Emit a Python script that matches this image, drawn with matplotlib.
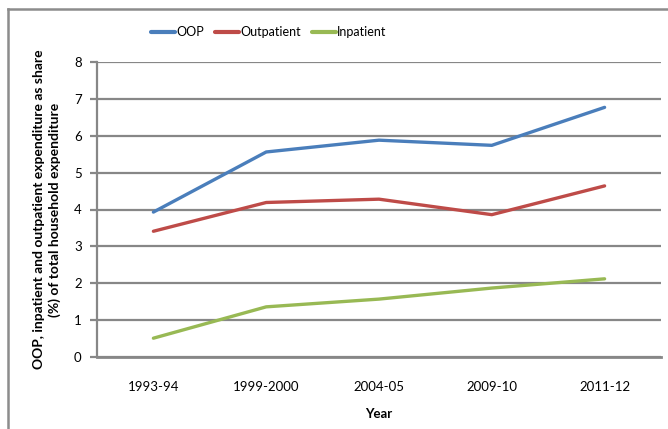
import matplotlib
matplotlib.use("Agg")
import matplotlib.pyplot as plt
from matplotlib.lines import Line2D

# ---- data ----
years = ["1993-94", "1999-2000", "2004-05", "2009-10", "2011-12"]
oop = [3.93, 5.56, 5.88, 5.74, 6.77]
outpatient = [3.41, 4.19, 4.28, 3.86, 4.64]
inpatient = [0.51, 1.36, 1.57, 1.87, 2.12]

plt.rcParams.update({"font.family": ["Lato", "DejaVu Sans"], "font.size": 9.5})
GRID = "#878787"
fig = plt.figure(figsize=(6.68, 4.29), dpi=100)
ax = fig.add_axes([97 / 668, 72 / 429, 564 / 668, 295 / 429])

x = range(len(years))
ax.plot(x, oop, color="#4a7ebb", lw=2.4, label="OOP", solid_capstyle="round", zorder=3)
ax.plot(x, outpatient, color="#be4b48", lw=2.4, label="Outpatient", solid_capstyle="round", zorder=3)
ax.plot(x, inpatient, color="#98b954", lw=2.4, label="Inpatient", solid_capstyle="round", zorder=3)

ax.set_xlim(-0.5, len(years) - 0.5)
ax.set_ylim(0, 8)
ax.set_yticks(range(0, 9))
ax.set_xticks(list(x))
ax.set_xticklabels(years)
ax.grid(axis="y", color=GRID, lw=1.6, zorder=1)
ax.tick_params(axis="y", length=5, width=1.6, color=GRID, pad=6)
ax.tick_params(axis="x", length=0, pad=17)
for s in ("top", "right"):
    ax.spines[s].set_visible(False)
ax.spines["left"].set_color(GRID); ax.spines["left"].set_linewidth(1.6)
ax.spines["bottom"].set_color(GRID); ax.spines["bottom"].set_linewidth(2.0)

ax.set_xlabel("Year", fontweight="bold", labelpad=11)
ax.set_ylabel("OOP, inpatient and outpatient expenditure as share\n(%) of total household expenditure",
              fontweight="bold", fontsize=10, labelpad=9, linespacing=1.35)
leg = fig.legend(loc="center", bbox_to_anchor=(269 / 668, 1 - 32 / 429), ncol=3, frameon=False,
                 fontsize=9, handlelength=1.9, handletextpad=0.1, columnspacing=0.9)
for h in leg.legend_handles:
    h.set_linewidth(3.0)

# chart-area border (left and top edges visible in the crop)
fig.add_artist(Line2D([8 / 668, 8 / 668], [0, 1 - 9 / 429], transform=fig.transFigure, color="#8c8c8c", lw=1.8))
fig.add_artist(Line2D([8 / 668, 1], [1 - 9 / 429, 1 - 9 / 429], transform=fig.transFigure, color="#8c8c8c", lw=1.8))

fig.savefig("out.png", dpi=100)
